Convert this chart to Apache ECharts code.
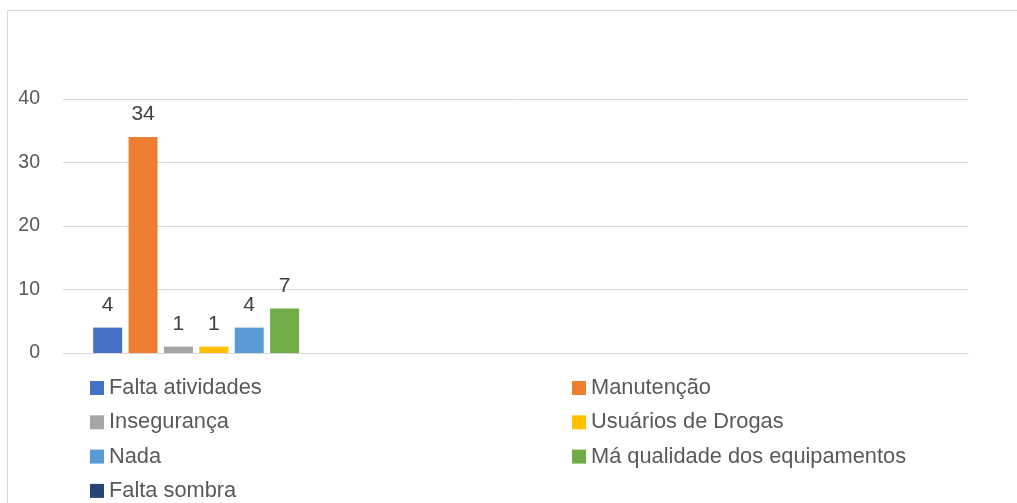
<!DOCTYPE html>
<html>
<head>
<meta charset="utf-8">
<script src="https://cdn.jsdelivr.net/npm/echarts@6/dist/echarts.min.js"></script>
<style>html,body{margin:0;padding:0;background:#fff}#c{width:1017px;height:503px}</style>
</head>
<body>
<div id="c"></div>
<script>
const categories = ['', '', ''];
const seriesNames = ['Falta atividades', 'Manutenção', 'Insegurança', 'Usuários de Drogas', 'Nada', 'Má qualidade dos equipamentos', 'Falta sombra'];
const seriesValues = [4, 34, 1, 1, 4, 7, 0];
const seriesColors = ['#4472C4', '#ED7D31', '#A5A5A5', '#FFC000', '#5B9BD5', '#70AD47', '#264478'];
const yTicks = [0, 10, 20, 30, 40];
const legendLeft = ['Falta atividades', 'Insegurança', 'Nada', 'Falta sombra'];
const legendRight = ['Manutenção', 'Usuários de Drogas', 'Má qualidade dos equipamentos'];

const FONT = '"Liberation Sans", "DejaVu Sans", sans-serif';
const chart = echarts.init(document.getElementById('c'), null, {renderer: 'canvas'});

const series = seriesNames.map((name, i) => ({
  name: name,
  type: 'bar',
  data: [seriesValues[i], null, null],
  itemStyle: {color: seriesColors[i]},
  barWidth: 29,
  barGap: '22%',
  label: {
    show: seriesValues[i] !== 0,
    position: 'top',
    distance: 12,
    color: '#404040',
    fontSize: 21,
    fontFamily: FONT
  }
}));

const legendCommon = {
  orient: 'vertical',
  top: 376,
  height: 200,
  padding: 0,
  itemWidth: 14,
  itemHeight: 14,
  itemGap: 10.3,
  icon: 'rect',
  textStyle: {color: '#595959', fontSize: 21.8, fontFamily: FONT, lineHeight: 24}
};

chart.setOption({
  animation: false,
  graphic: [{
    type: 'rect',
    shape: {x: 7.5, y: 10.5, width: 1100, height: 600},
    style: {fill: 'none', stroke: '#D9D9D9', lineWidth: 1},
    silent: true
  }],
  grid: {left: 63, right: 49, top: 99, bottom: 150},
  xAxis: {
    type: 'category',
    data: categories,
    axisLine: {show: true, lineStyle: {color: '#D9D9D9', width: 1}},
    axisTick: {show: false},
    axisLabel: {show: false}
  },
  yAxis: {
    type: 'value',
    min: yTicks[0],
    max: yTicks[yTicks.length - 1],
    interval: 10,
    axisLine: {show: false},
    axisTick: {show: false},
    axisLabel: {color: '#595959', fontSize: 19.5, fontFamily: FONT, margin: 23},
    splitLine: {lineStyle: {color: '#D9D9D9', width: 1}}
  },
  legend: [
    Object.assign({}, legendCommon, {left: 90, data: legendLeft}),
    Object.assign({}, legendCommon, {left: 572, data: legendRight})
  ],
  series: series
});
</script>
</body>
</html>
